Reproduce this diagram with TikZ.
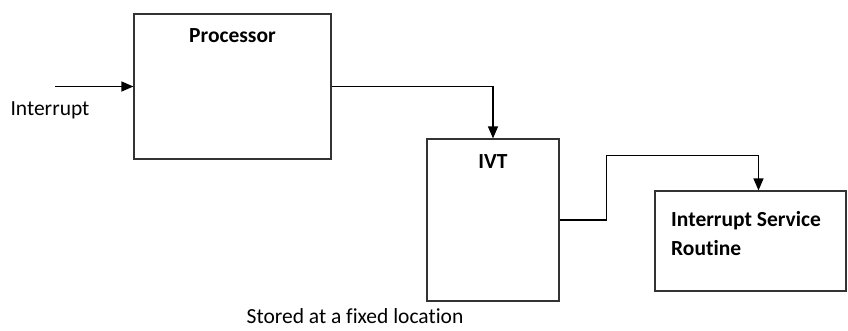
\documentclass[tikz,border=0pt]{standalone}
\usepackage{fontspec}
\setmainfont{Carlito}[Ligatures={NoCommon}]
\usepackage{tikz}
\usetikzlibrary{shapes,arrows,positioning,calc,arrows.meta}

\tikzset{
    blockbox/.style={draw=black!80, line width=1.2pt, inner sep=0pt},
    boxtitle/.style={font=\fontsize{21.5}{29}\selectfont\bfseries, inner sep=0pt},
    plaintext/.style={font=\fontsize{21.5}{29}\selectfont, inner sep=0pt},
    flow/.style={line width=1.3pt, -{Triangle[length=12pt,width=10pt]}}
}

\begin{document}
\begin{tikzpicture}[x=1pt,y=1pt]
    \useasboundingbox (0,0) rectangle (848,-330);

    \node[blockbox, minimum width=197pt, minimum height=145pt] (proc) at (232.5,-86.5) {}; % Processor
    \node[boxtitle] (proctitle) at ([yshift=-22pt]proc.north) {Processor};

    \node[blockbox, minimum width=132pt, minimum height=162pt] (ivt) at (493,-220) {}; % IVT
    \node[boxtitle] (ivttitle) at ([yshift=-23pt]ivt.north) {IVT};

    \node[blockbox, minimum width=191pt, minimum height=100pt] (isr) at (750.5,-241) {}; % ISR
    \node[boxtitle, align=left, anchor=west] (isrtitle) at (671,-233.5) {Interrupt Service\\Routine};

    \coordinate (intin) at (55,-86.5);
    \draw[flow] (intin) -- (proc.west); % Interrupt in
    \node[plaintext] (intlabel) at (50,-110) {Interrupt};

    \draw[flow] (proc.east) -| (ivt.north); % to IVT
    \draw[flow] (ivt.east) -- ++(47pt,0) |- ([xshift=8pt,yshift=35pt]isr.north) -- ([xshift=8pt]isr.north); % to ISR

    \node[plaintext] (storedlabel) at (355,-316) {Stored at a fixed location};
\end{tikzpicture}
\end{document}
